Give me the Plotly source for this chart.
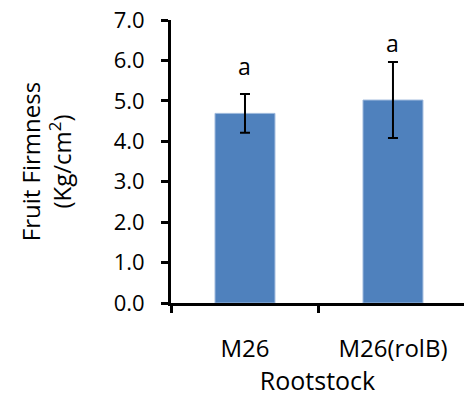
import plotly.graph_objects as go

# Fruit firmness by rootstock (mean ± SE) with significance letters
rootstocks = ["M26", "M26(rolB)"]
firmness = [4.69, 5.02]
firmness_err = [0.48, 0.94]
letters = ["a", "a"]
y_ticks = [0, 1, 2, 3, 4, 5, 6, 7]
y_tick_text = ["0.0", "1.0", "2.0", "3.0", "4.0", "5.0", "6.0", "7.0"]

FONT = "Open Sans, DejaVu Sans, sans-serif"
BAR_COLOR = "#4F81BD"

fig = go.Figure()
fig.add_trace(go.Bar(
    x=rootstocks,
    y=firmness,
    width=0.405,
    marker=dict(color=BAR_COLOR, line=dict(color="#9DB8DC", width=1)),
    error_y=dict(type="data", array=firmness_err, visible=True,
                 color="black", thickness=2, width=5),
    showlegend=False,
    hoverinfo="skip",
))

# Significance letters sit above each error bar
letter_shift = [10, 1]
for cat, val, err, lab, sh in zip(rootstocks, firmness, firmness_err, letters, letter_shift):
    fig.add_annotation(x=cat, y=val + err, text=lab, showarrow=False,
                       yanchor="bottom", yshift=sh,
                       font=dict(family=FONT, size=23, color="black"))

fig.update_layout(
    width=464, height=397,
    margin=dict(l=171, r=0, t=20, b=94),
    paper_bgcolor="white", plot_bgcolor="white",
    font=dict(family=FONT, size=22, color="black"),
    bargap=0.6,
)
fig.update_xaxes(
    type="category",
    range=[-0.5, 1.48],
    showline=True, linecolor="black", linewidth=3,
    ticks="outside", tickson="boundaries", ticklen=7, tickwidth=3, tickcolor="black",
    showgrid=False, zeroline=False,
    ticklabelstandoff=22,
    tickfont=dict(family=FONT, size=24, color="black"),
    title=dict(text="Rootstock", standoff=6,
               font=dict(family=FONT, size=25, color="black")),
)
fig.update_yaxes(
    range=[0, 7],
    tickvals=y_ticks, ticktext=y_tick_text,
    showline=True, linecolor="black", linewidth=3,
    ticks="outside", ticklen=7, tickwidth=3, tickcolor="black",
    showgrid=False, zeroline=False,
    ticklabelstandoff=12,
    tickfont=dict(family=FONT, size=22, color="black"),
    title=dict(text="Fruit Firmness<br>(Kg/cm<sup>2</sup>)", standoff=36,
               font=dict(family=FONT, size=24, color="black")),
)

fig.write_html("out.html")
